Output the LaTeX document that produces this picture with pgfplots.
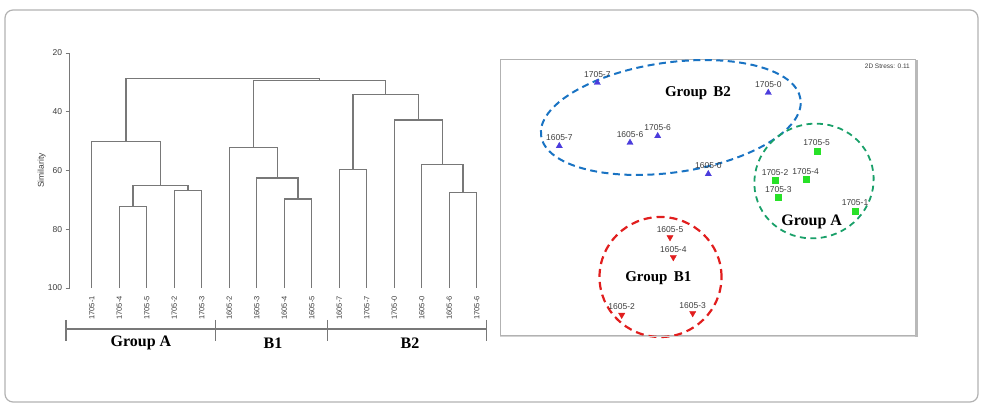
\documentclass[border=0pt]{standalone}
\usepackage{pgfplots}
\pgfplotsset{compat=1.18}
\usepackage{fontspec}
\setmainfont{Liberation Sans}
\newfontfamily\tnr{Liberation Serif}
\definecolor{dgray}{RGB}{120,120,120}
\definecolor{tblue}{RGB}{75,60,220}
\definecolor{eblue}{RGB}{25,115,195}
\definecolor{egreen}{RGB}{25,160,105}
\definecolor{sgreen}{RGB}{40,225,40}
\definecolor{tred}{RGB}{225,30,30}
\definecolor{lbl}{RGB}{60,60,60}
\pgfplotsset{
  dendro/.style={draw=dgray, line width=1.35pt, mark=none},
  mdslbl/.style={nodes near coords, point meta=explicit symbolic,
    every node near coord/.append style={font=\fontsize{8.5}{9}\selectfont, text=lbl,
      anchor=south, inner sep=0pt, yshift=5pt}},
}
\begin{document}
\begin{tikzpicture}[x=1pt,y=1pt]
\useasboundingbox (0,0) rectangle (988,412);
\draw[gray!60, line width=1.2pt, rounded corners=8pt] (5,10) rectangle (978,402);

% dendrogram
\begin{axis}[
  at={(69.7pt,124pt)}, anchor=south west, scale only axis,
  width=429pt, height=235pt,
  xmin=-0.8, xmax=14.8, ymin=20, ymax=100, y dir=reverse,
  axis x line=none, axis y line*=left,
  axis line style={dgray, line width=1pt},
  ytick={20,40,60,80,100}, tick align=outside, major tick length=4pt,
  tick style={dgray, line width=1pt},
  /pgf/number format/assume math mode=true,
  y tick label style={font=\fontsize{8.5}{9}\selectfont, text=lbl},
  ylabel={Similarity},
  ylabel style={at={(axis description cs:-0.0653,0.5)}, anchor=center,
    font=\fontsize{8.5}{9}\selectfont, text=lbl},
  clip=false,
]
% Group A
\addplot[dendro] coordinates {(1,100) (1,72.3) (2,72.3) (2,100)};
\addplot[dendro] coordinates {(3,100) (3,66.8) (4,66.8) (4,100)};
\addplot[dendro] coordinates {(1.5,72.3) (1.5,65.1) (3.5,65.1) (3.5,66.8)};
\addplot[dendro] coordinates {(0,100) (0,50.2) (2.5,50.2) (2.5,65.1)};
% B1
\addplot[dendro] coordinates {(7,100) (7,69.7) (8,69.7) (8,100)};
\addplot[dendro] coordinates {(6,100) (6,62.6) (7.5,62.6) (7.5,69.7)};
\addplot[dendro] coordinates {(5,100) (5,52.1) (6.75,52.1) (6.75,62.6)};
% B2
\addplot[dendro] coordinates {(9,100) (9,59.6) (10,59.6) (10,100)};
\addplot[dendro] coordinates {(13,100) (13,67.4) (14,67.4) (14,100)};
\addplot[dendro] coordinates {(12,100) (12,57.9) (13.5,57.9) (13.5,67.4)};
\addplot[dendro] coordinates {(11,100) (11,42.8) (12.75,42.8) (12.75,57.9)};
\addplot[dendro] coordinates {(9.5,59.6) (9.5,34.1) (11.875,34.1) (11.875,42.8)};
% top joins
\addplot[dendro] coordinates {(5.875,52.1) (5.875,29.4) (10.6875,29.4) (10.6875,34.1)};
\addplot[dendro] coordinates {(1.25,50.2) (1.25,28.6) (8.28,28.6) (8.28,29.4)};
% leaf labels
\addplot[draw=none, mark=none, nodes near coords, point meta=explicit symbolic,
  every node near coord/.style={rotate=90, anchor=east, inner xsep=8pt, inner ysep=0pt,
    font=\fontsize{7.5}{8}\selectfont, text=lbl}]
  coordinates {
  (0,100)[1705-1] (1,100)[1705-4] (2,100)[1705-5] (3,100)[1705-2] (4,100)[1705-3]
  (5,100)[1605-2] (6,100)[1605-3] (7,100)[1605-4] (8,100)[1605-5]
  (9,100)[1605-7] (10,100)[1705-7] (11,100)[1705-0] (12,100)[1605-0]
  (13,100)[1605-6] (14,100)[1705-6]};
\end{axis}

% group brackets below dendrogram
\draw[dgray, line width=1.2pt] (66,83) -- (486.7,83);
\foreach \xx in {66,215.7,327.3,486.7} \draw[dgray, line width=1.2pt] (\xx,92) -- (\xx,71);
\node[font=\tnr\bfseries\fontsize{16}{16}\selectfont] at (141,69) {Group A};
\node[font=\tnr\bfseries\fontsize{16}{16}\selectfont] at (273,69) {B1};
\node[font=\tnr\bfseries\fontsize{16}{16}\selectfont] at (410,69) {B2};

% MDS plot
\begin{axis}[
  at={(500pt,76pt)}, anchor=south west, scale only axis,
  width=415pt, height=276pt,
  xmin=0, xmax=415, ymin=0, ymax=276,
  axis line style={gray!60, line width=1pt},
  xtick=\empty, ytick=\empty, clip=false,
]
\addplot[only marks, mark=triangle*, mark size=3.6pt, color=tblue, mdslbl] coordinates {
  (97.3,253.3)[1705-7] (268.3,243.3)[1705-0] (59.3,190)[1605-7]
  (130,193.3)[1605-6] (157.7,200)[1705-6] (208.3,162)[1605-0]};
\addplot[only marks, mark=square*, mark size=3pt, color=sgreen, mdslbl] coordinates {
  (316.7,185)[1705-5] (275,155.3)[1705-2] (305.7,156.7)[1705-4]
  (278.3,138.3)[1705-3] (355,125)[1705-1]};
\addplot[only marks, mark=triangle*, mark size=3.6pt, color=tred,
  every mark/.append style={rotate=180}, mdslbl] coordinates {
  (170,98.7)[1605-5] (173.3,78.7)[1605-4] (121.7,21)[1605-2] (192.7,22.7)[1605-3]};
\draw[eblue, line width=2pt, dash pattern=on 7pt off 4.5pt,
  rotate around={8:(axis cs:170.8,218.5)}]
  (axis cs:170.8,218.5) ellipse [x radius=131pt, y radius=55pt];
\draw[egreen, line width=1.8pt, dash pattern=on 6pt off 4.5pt,
  rotate around={20:(axis cs:314,155)}]
  (axis cs:314,155) ellipse [x radius=60pt, y radius=57pt];
\draw[tred, line width=2.2pt, dash pattern=on 8pt off 5pt]
  (axis cs:160.5,59) ellipse [x radius=61pt, y radius=60pt];
\node[font=\tnr\bfseries\fontsize{15}{15}\selectfont] at (axis cs:198,243.3) {Group\, B2};
\node[font=\tnr\bfseries\fontsize{16}{16}\selectfont] at (axis cs:311.7,114.3) {Group A};
\node[font=\tnr\bfseries\fontsize{15}{15}\selectfont] at (axis cs:158.3,57.7) {Group\, B1};
\node[anchor=east, font=\fontsize{6.5}{7}\selectfont, text=lbl, inner sep=0pt] at (axis cs:410,270) {2D Stress: 0.11};
\end{axis}
\draw[gray!55, line width=3.5pt] (916.7,352) -- (916.7,75.3);
\draw[gray!35, line width=1.5pt] (500,75.3) -- (915,75.3);
\end{tikzpicture}
\end{document}
